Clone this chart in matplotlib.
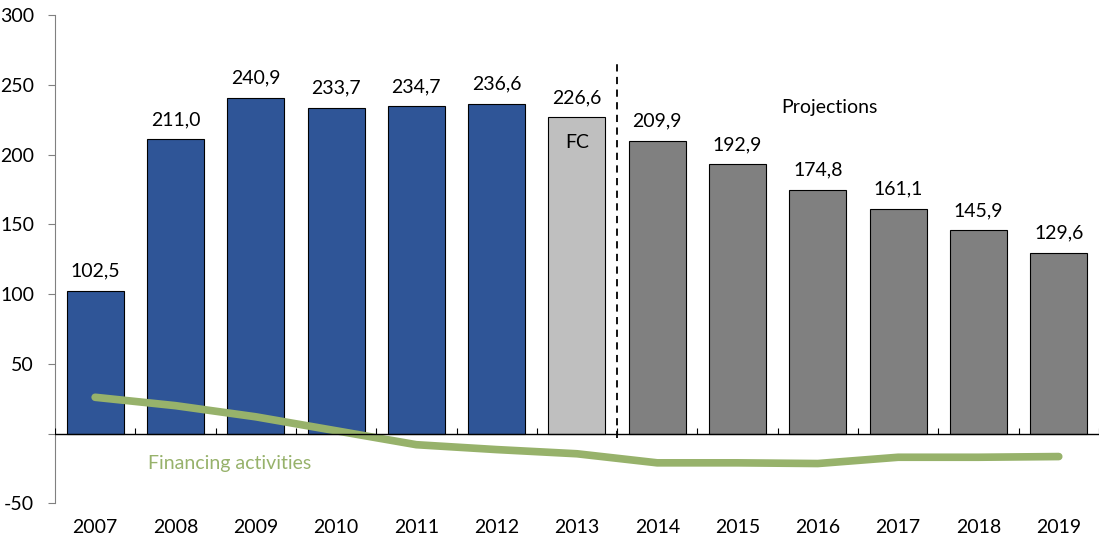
import numpy as np
import matplotlib.pyplot as plt

plt.rcParams['font.family'] = ['Lato', 'DejaVu Sans']

years = ["2007", "2008", "2009", "2010", "2011", "2012", "2013",
         "2014", "2015", "2016", "2017", "2018", "2019"]
values = [102.5, 211.0, 240.9, 233.7, 234.7, 236.6, 226.6,
          209.9, 192.9, 174.8, 161.1, 145.9, 129.6]
financing = [26, 20, 12, 2, -8, -11.5, -14.5, -21, -21, -21.5, -17, -17, -16.5]
colors = ["#2F5597"] * 6 + ["#BFBFBF"] + ["#808080"] * 6

fig = plt.figure(figsize=(11, 5.4), dpi=100)
ax = fig.add_axes([0.05, 0.068, 0.949, 0.904])

x = np.arange(len(years))
ax.bar(x, values, width=0.71, color=colors, edgecolor="black", linewidth=0.8, zorder=2)

for xi, v in zip(x, values):
    ax.annotate(f"{v:.1f}".replace(".", ","), (xi, v), xytext=(0, 8),
                textcoords="offset points", ha="center", va="bottom", fontsize=14)

# financing line
ax.plot(x, financing, color="#97B26B", linewidth=5.5, solid_capstyle="round", zorder=3)
ax.text(1.68, -21.5, "Financing activities", color="#97B26B", fontsize=14,
        ha="center", va="center")

# zero line and category boundary ticks
ax.axhline(0, color="black", linewidth=1, zorder=4)
ax.vlines(np.arange(len(years) + 1) - 0.5, 0, 4, color="black", linewidth=0.8, zorder=4)

# projection separator
ax.vlines(6.5, -3, 265, color="black", linestyle=(0, (4, 3)), linewidth=1.3, zorder=4)
ax.text(9.15, 234, "Projections", fontsize=14, ha="center", va="center")
ax.text(6, 209, "FC", fontsize=14, ha="center", va="center", zorder=5)

ax.set_xlim(-0.5, 12.5)
ax.set_ylim(-50, 300)
ax.set_yticks(range(-50, 301, 50))
ax.set_yticklabels(["" if t == 0 else str(t) for t in range(-50, 301, 50)], fontsize=14)
ax.set_xticks(x)
ax.set_xticklabels(years, fontsize=14)
ax.tick_params(axis="x", length=0, pad=11)
ax.tick_params(axis="y", length=5, color="#808080", pad=10)

for s in ["top", "right", "bottom"]:
    ax.spines[s].set_visible(False)
ax.spines["left"].set_color("#808080")

fig.savefig("out.png")
